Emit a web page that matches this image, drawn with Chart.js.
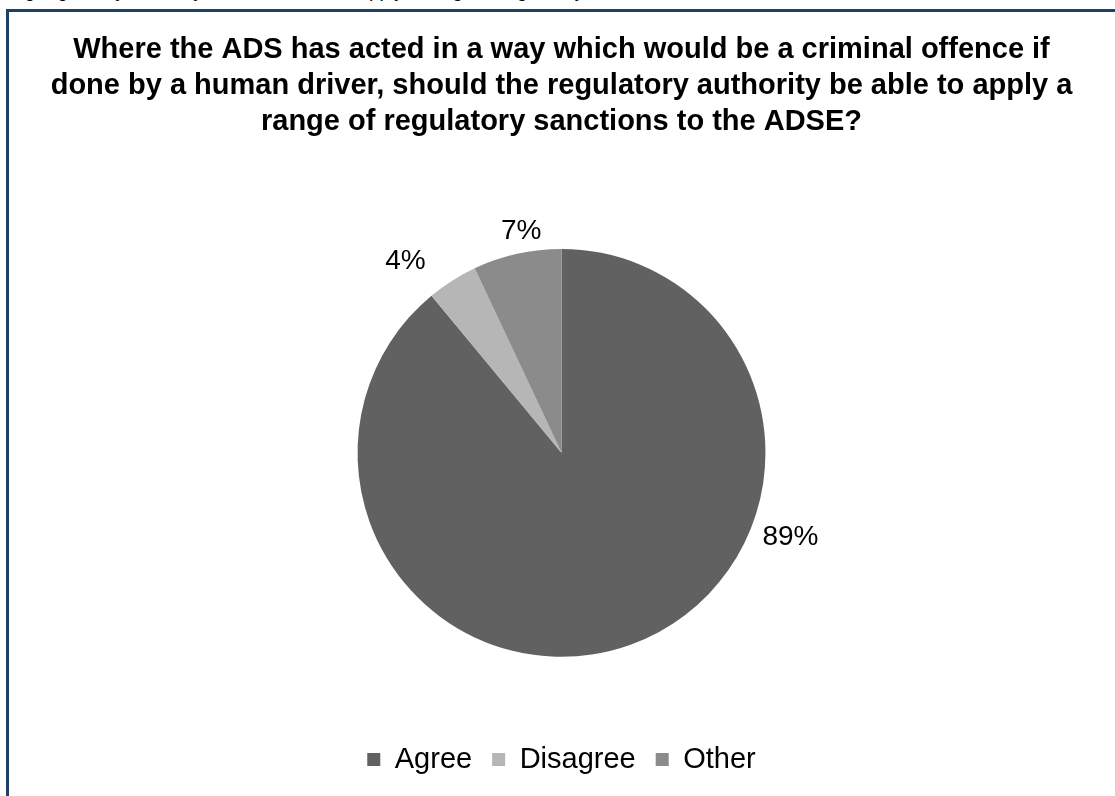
<!DOCTYPE html>
<html>
<head>
<meta charset="utf-8">
<script src="https://cdn.jsdelivr.net/npm/chart.js@4"></script>
<style>
  html, body { margin: 0; padding: 0; background: #fff; overflow: hidden; }
  body { width: 1115px; height: 796px; position: relative; font-family: "Liberation Sans", Arial, sans-serif; }
  #cut { position: absolute; left: 14px; top: -20px; font-size: 19px; color: #000; white-space: nowrap; }
  #frame { position: absolute; left: 6px; top: 9px; width: 1200px; height: 900px;
    border-left: 3px solid #1e4266; border-top: 3px solid #1e4266; }
  #wrap { position: absolute; left: 0; top: 0; width: 1115px; height: 796px; }
</style>
</head>
<body>
<div id="cut">ng regulatory authority should be able to apply a range of regulatory sanctions</div>
<div id="frame"></div>
<div id="wrap"><canvas id="c"></canvas></div>
<script>
// survey question: regulatory sanctions for the ADSE
const TITLE = [
  "Where the ADS has acted in a way which would be a criminal offence if",
  "done by a human driver, should the regulatory authority be able to apply a",
  "range of regulatory sanctions to the ADSE?",
];
const categories = ["Agree", "Disagree", "Other"];
const shares = [89, 4, 7];
const colours = ["#616161", "#b6b6b6", "#8b8b8b"];

// where each % label sits: fraction along the slice, gap past the rim
const labelFrac = [0.344, 0.03, 0.59];
const labelGap = [40, 43, 21];

const FONT = "'Liberation Sans', Arial, sans-serif";

const pctLabels = {
  id: "pctLabels",
  afterDatasetsDraw(chart) {
    const { ctx } = chart;
    const total = shares.reduce((a, b) => a + b, 0);
    chart.getDatasetMeta(0).data.forEach((arc, i) => {
      const p = arc.getProps(["x", "y", "startAngle", "endAngle", "outerRadius"], true);
      const a = p.startAngle + labelFrac[i] * (p.endAngle - p.startAngle);
      const r = p.outerRadius + labelGap[i];
      ctx.save();
      ctx.font = `28px ${FONT}`;
      ctx.fillStyle = "#000";
      ctx.textAlign = "center";
      ctx.textBaseline = "middle";
      ctx.fillText(Math.round(shares[i] / total * 100) + "%", p.x + r * Math.cos(a), p.y + r * Math.sin(a));
      ctx.restore();
    });
  },
};

new Chart(document.getElementById("c"), {
  type: "pie",
  data: {
    labels: categories,
    datasets: [{ data: shares, backgroundColor: colours, borderWidth: 0 }],
  },
  options: {
    responsive: true,
    maintainAspectRatio: false,
    animation: false,
    layout: { padding: { left: 8, right: 0, top: 0, bottom: 12 } },
    plugins: {
      title: {
        display: true, text: TITLE, color: "#000",
        font: { family: FONT, size: 29, weight: "bold", lineHeight: 1.24 },
        padding: { top: 32, bottom: 109 },
      },
      legend: {
        position: "bottom",
        // empty legend title = gap between pie and legend row
        title: { display: true, text: "", font: { size: 1 }, padding: { top: 0, bottom: 67 } },
        labels: { color: "#000", boxWidth: 13, boxHeight: 13, padding: 20,
          font: { family: FONT, size: 29 } },
      },
      tooltip: { enabled: false },
    },
  },
  plugins: [pctLabels],
});
</script>
</body>
</html>
